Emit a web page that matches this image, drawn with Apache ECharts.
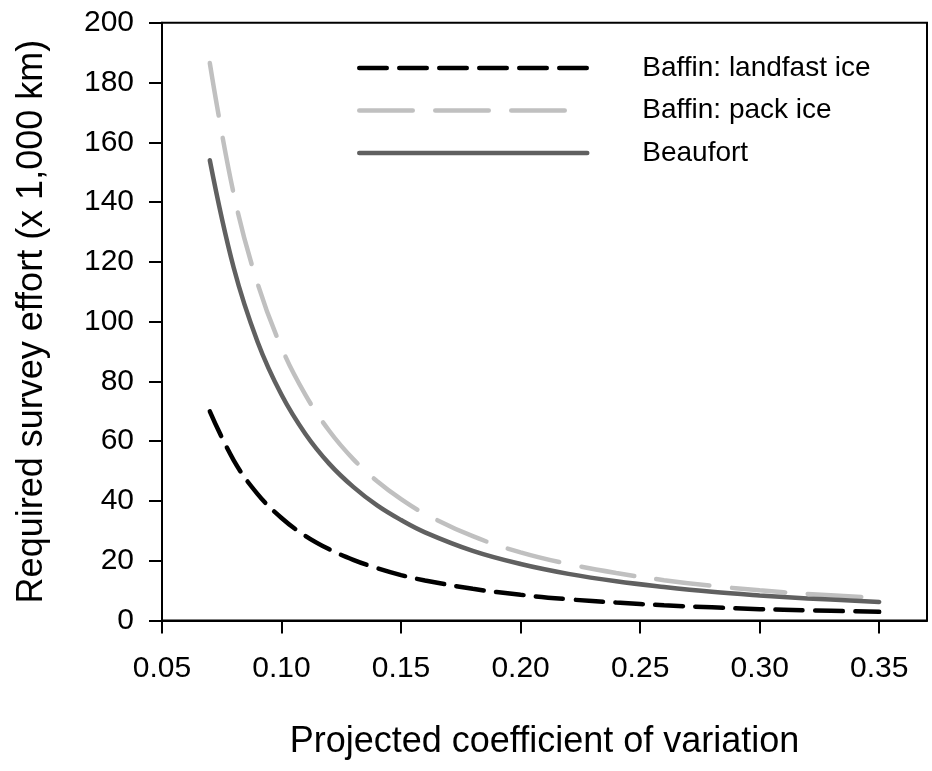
<!DOCTYPE html>
<html>
<head>
<meta charset="utf-8">
<script src="https://cdn.jsdelivr.net/npm/echarts@6/dist/echarts.min.js"></script>
<style>
  html, body { margin: 0; padding: 0; background: #fff; }
  #chart { width: 932px; height: 771px; }
</style>
</head>
<body>
<div id="chart"></div>
<script>
// Projected coefficient of variation (x values)
var cvValues = [0.07, 0.08, 0.09, 0.10, 0.11, 0.12, 0.13, 0.14, 0.15, 0.16, 0.18, 0.20, 0.22, 0.24, 0.26, 0.28, 0.30, 0.32, 0.35];

// Required survey effort (x 1,000 km)
var landfastEffort = [70, 53.6, 42.3, 34.3, 28.3, 23.8, 20.3, 17.5, 15.2, 13.4, 10.6, 8.6, 7.1, 6.0, 5.1, 4.4, 3.8, 3.4, 2.9];
var packEffort     = [186.5, 142.7, 112.7, 91.3, 75.5, 63.4, 54.0, 46.6, 40.6, 35.7, 28.2, 22.8, 18.9, 15.9, 13.5, 11.6, 10.1, 8.9, 7.6];
var beaufortEffort = [154, 118, 93.2, 75.5, 62.4, 52.4, 44.7, 38.5, 33.6, 29.5, 23.3, 18.9, 15.6, 13.1, 11.2, 9.6, 8.4, 7.4, 6.2];

var seriesNames = ['Baffin: landfast ice', 'Baffin: pack ice', 'Beaufort'];
var xTicks = [0.05, 0.10, 0.15, 0.20, 0.25, 0.30, 0.35];

function pairs(xs, ys) {
  return xs.map(function (x, i) { return [x, ys[i]]; });
}

var FONT = '"Liberation Sans", Arial, sans-serif';

// stroke styles shared by the curves and their legend keys
var styles = [
  { color: '#000000', width: 4.5, type: [27.5, 12.5], cap: 'round' },
  { color: '#c0c0c0', width: 4.5, type: [53.5, 22.5], cap: 'round' },
  { color: '#606060', width: 4.5, type: 'solid', cap: 'round' }
];

var chart = echarts.init(document.getElementById('chart'), null, { renderer: 'canvas' });

chart.setOption({
  backgroundColor: '#ffffff',
  animation: false,
  grid: {
    left: 162, right: 5, top: 22.7, bottom: 150.5,
    show: true, borderColor: '#000', borderWidth: 2, backgroundColor: 'transparent'
  },
  legend: {
    orient: 'vertical',
    left: 352, top: 47,
    itemWidth: 228, itemHeight: 20, itemGap: 10.5,
    itemStyle: { opacity: 0 },
    textStyle: { fontFamily: FONT, fontSize: 28, color: '#000', lineHeight: 32, padding: [0, 0, 0, 50] },
    data: seriesNames.map(function (n, i) {
      return { name: n, lineStyle: styles[i], itemStyle: { opacity: 0 } };
    })
  },
  xAxis: {
    type: 'value', min: 0.05, max: 0.37,
    name: 'Projected coefficient of variation',
    nameLocation: 'middle', nameGap: 104,
    nameTextStyle: { fontFamily: FONT, fontSize: 36, color: '#000' },
    axisLine: { show: true, lineStyle: { color: '#000', width: 2 } },
    axisTick: { show: true, length: 13, lineStyle: { color: '#000', width: 2 }, customValues: xTicks },
    axisLabel: {
      fontFamily: FONT, fontSize: 30, color: '#000', margin: 33,
      customValues: xTicks,
      formatter: function (v) { return v.toFixed(2); }
    },
    splitLine: { show: false }
  },
  yAxis: {
    type: 'value', min: 0, max: 200, interval: 20,
    name: 'Required survey effort (x 1,000 km)',
    nameLocation: 'middle', nameGap: 112,
    nameTextStyle: { fontFamily: FONT, fontSize: 36, color: '#000' },
    axisLine: { show: true, lineStyle: { color: '#000', width: 2 } },
    axisTick: { show: true, length: 13, lineStyle: { color: '#000', width: 2 } },
    axisLabel: { fontFamily: FONT, fontSize: 30, color: '#000', margin: 28 },
    splitLine: { show: false }
  },
  series: [
    {
      name: seriesNames[0], type: 'line', symbol: 'none', smooth: 0.4,
      data: pairs(cvValues, landfastEffort), z: 3,
      itemStyle: { color: styles[0].color },
      lineStyle: styles[0]
    },
    {
      name: seriesNames[1], type: 'line', symbol: 'none', smooth: 0.4,
      data: pairs(cvValues, packEffort), z: 2,
      itemStyle: { color: styles[1].color },
      lineStyle: styles[1]
    },
    {
      name: seriesNames[2], type: 'line', symbol: 'none', smooth: 0.4,
      data: pairs(cvValues, beaufortEffort), z: 4,
      itemStyle: { color: styles[2].color },
      lineStyle: styles[2]
    }
  ]
});
</script>
</body>
</html>
